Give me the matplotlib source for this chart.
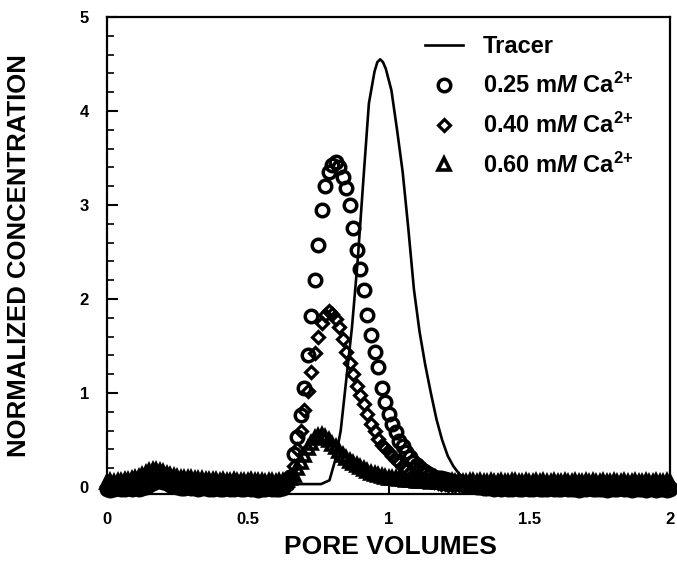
import numpy as np
import matplotlib
matplotlib.use('Agg')
import matplotlib.pyplot as plt
from matplotlib.lines import Line2D
from matplotlib.ticker import MultipleLocator, FormatStrFormatter

plt.rcParams['font.family'] = 'Liberation Sans'
plt.rcParams['font.weight'] = 'bold'
plt.rcParams['axes.labelweight'] = 'bold'
plt.rcParams['mathtext.fontset'] = 'custom'
plt.rcParams['mathtext.rm'] = 'Liberation Sans:bold'
plt.rcParams['mathtext.it'] = 'Liberation Sans:italic:bold'
plt.rcParams['mathtext.bf'] = 'Liberation Sans:bold'

# sampling grid of the effluent fractions (pore volumes)
pore_vol = np.linspace(0, 2, 161)

# 0.25 mM Ca2+ (circles)
c025 = [-0.02, -0.03, -0.02, -0.01, -0.02, -0.02, -0.01, -0.02, -0.01, -0.02,
        -0.01, 0.00, 0.02, 0.04, 0.06, 0.06, 0.05, 0.04, 0.02, 0.01,
        0.00, -0.01, -0.01, 0.00, -0.01, -0.01, -0.02, -0.01, -0.01, -0.02,
        -0.02, -0.01, -0.02, -0.02, -0.01, -0.02, -0.02, -0.01, -0.02, -0.02,
        -0.01, -0.02, -0.02, -0.03, -0.02, -0.02, -0.01, -0.02, -0.02, -0.02,
        -0.01, 0.03, 0.11, 0.35, 0.53, 0.77, 1.05, 1.40, 1.82, 2.20,
        2.57, 2.95, 3.20, 3.35, 3.43, 3.46, 3.40, 3.30, 3.18, 3.00,
        2.75, 2.52, 2.32, 2.10, 1.83, 1.62, 1.44, 1.28, 1.05, 0.90,
        0.78, 0.67, 0.58, 0.49, 0.43, 0.37, 0.32, 0.27, 0.23, 0.20,
        0.17, 0.15, 0.13, 0.11, 0.10, 0.09, 0.08, 0.07, 0.06, 0.05,
        0.04, 0.03, 0.02, 0.01, 0.01, 0.00, 0.00, -0.01, -0.01, -0.01,
        -0.02, -0.01, -0.02, -0.01, -0.02, -0.02, -0.01, -0.02, -0.02, -0.01,
        -0.02, -0.02, -0.01, -0.02, -0.02, -0.02, -0.01, -0.02, -0.02, -0.02,
        -0.01, -0.02, -0.02, -0.02, -0.03, -0.02, -0.02, -0.01, -0.02, -0.02,
        -0.02, -0.02, -0.03, -0.02, -0.02, -0.02, -0.01, -0.02, -0.02, -0.03,
        -0.02, -0.02, -0.02, -0.03, -0.02, -0.02, -0.03, -0.02, -0.02, -0.03, -0.02]

# 0.40 mM Ca2+ (diamonds)
c040 = [0.01, 0.01, 0.02, 0.01, 0.02, 0.01, 0.02, 0.02, 0.03, 0.03,
        0.04, 0.06, 0.08, 0.10, 0.11, 0.11, 0.10, 0.09, 0.07, 0.06,
        0.05, 0.04, 0.03, 0.03, 0.02, 0.03, 0.02, 0.01, 0.02, 0.02,
        0.01, 0.02, 0.01, 0.02, 0.02, 0.01, 0.02, 0.01, 0.02, 0.01,
        0.02, 0.01, 0.02, 0.02, 0.01, 0.02, 0.01, 0.02, 0.02, 0.02,
        0.03, 0.06, 0.12, 0.22, 0.40, 0.60, 0.82, 1.02, 1.22, 1.42,
        1.60, 1.74, 1.83, 1.87, 1.84, 1.79, 1.70, 1.57, 1.44, 1.32,
        1.20, 1.07, 0.98, 0.88, 0.78, 0.67, 0.59, 0.51, 0.45, 0.41,
        0.37, 0.33, 0.29, 0.25, 0.21, 0.18, 0.15, 0.13, 0.11, 0.09,
        0.08, 0.07, 0.06, 0.05, 0.04, 0.03, 0.03, 0.02, 0.02, 0.02,
        0.02, 0.01, 0.02, 0.01, 0.02, 0.01, 0.01, 0.02, 0.01, 0.02,
        0.01, 0.02, 0.01, 0.01, 0.02, 0.01, 0.02, 0.01, 0.01, 0.02,
        0.01, 0.01, 0.02, 0.01, 0.02, 0.01, 0.01, 0.02, 0.01, 0.02,
        0.01, 0.02, 0.01, 0.01, 0.02, 0.01, 0.02, 0.01, 0.01, 0.02,
        0.01, 0.02, 0.01, 0.01, 0.02, 0.01, 0.01, 0.02, 0.01, 0.01,
        0.02, 0.01, 0.01, 0.02, 0.01, 0.01, 0.02, 0.01, 0.02, 0.01, 0.02]

# 0.60 mM Ca2+ (triangles)
c060 = [0.05, 0.06, 0.05, 0.06, 0.06, 0.07, 0.07, 0.08, 0.09, 0.11,
        0.13, 0.15, 0.17, 0.18, 0.18, 0.17, 0.16, 0.14, 0.13, 0.12,
        0.11, 0.10, 0.10, 0.09, 0.09, 0.08, 0.08, 0.08, 0.07, 0.07,
        0.07, 0.07, 0.06, 0.07, 0.06, 0.06, 0.07, 0.06, 0.06, 0.06,
        0.06, 0.07, 0.06, 0.06, 0.06, 0.05, 0.06, 0.06, 0.05, 0.06,
        0.06, 0.07, 0.09, 0.13, 0.20, 0.27, 0.34, 0.41, 0.47, 0.52,
        0.54, 0.55, 0.53, 0.50, 0.46, 0.42, 0.38, 0.34, 0.31, 0.28,
        0.25, 0.23, 0.21, 0.19, 0.17, 0.15, 0.14, 0.13, 0.12, 0.11,
        0.10, 0.09, 0.09, 0.08, 0.08, 0.07, 0.07, 0.07, 0.06, 0.06,
        0.06, 0.06, 0.05, 0.06, 0.05, 0.06, 0.06, 0.05, 0.06, 0.05,
        0.06, 0.05, 0.05, 0.06, 0.06, 0.05, 0.06, 0.05, 0.05, 0.06,
        0.05, 0.05, 0.06, 0.05, 0.05, 0.06, 0.06, 0.05, 0.05, 0.06,
        0.05, 0.05, 0.06, 0.05, 0.06, 0.05, 0.05, 0.06, 0.05, 0.05,
        0.06, 0.05, 0.05, 0.06, 0.05, 0.05, 0.06, 0.05, 0.06, 0.05,
        0.05, 0.06, 0.05, 0.05, 0.06, 0.05, 0.05, 0.06, 0.05, 0.05,
        0.06, 0.05, 0.05, 0.06, 0.05, 0.05, 0.06, 0.05, 0.05, 0.06, 0.05]

# conservative tracer
tracer_x = [0.0, 0.30, 0.60, 0.76, 0.79, 0.81, 0.83, 0.85, 0.87, 0.89,
            0.91, 0.93, 0.95, 0.96, 0.97, 0.98, 0.99, 1.01, 1.03, 1.05,
            1.07, 1.09, 1.11, 1.13, 1.15, 1.17, 1.19, 1.21, 1.23, 1.25,
            1.28, 1.32, 1.50, 2.0]
tracer_y = [0.03, 0.03, 0.03, 0.03, 0.07, 0.28, 0.60, 1.15, 1.70, 2.40,
            3.25, 4.08, 4.42, 4.52, 4.55, 4.52, 4.45, 4.22, 3.80, 3.35,
            2.75, 2.10, 1.65, 1.30, 1.00, 0.72, 0.50, 0.33, 0.22, 0.14,
            0.07, 0.04, 0.03, 0.03]

labels = ['Tracer',
          r'0.25 m$\mathit{M}$ Ca$^{2{+}}$',
          r'0.40 m$\mathit{M}$ Ca$^{2{+}}$',
          r'0.60 m$\mathit{M}$ Ca$^{2{+}}$']

fig = plt.figure(figsize=(6.77, 5.67), dpi=100)
ax = fig.add_axes([0.158, 0.128, 0.832, 0.842])

circ = dict(marker='o', ms=9, mew=2.5, mfc='none', mec='black')
diam = dict(marker='D', ms=6.5, mew=2.3, mfc='none', mec='black')
tri = dict(marker='^', ms=8.5, mew=2.6, mfc='none', mec='black')

ax.plot(tracer_x, tracer_y, color='black', lw=1.9, zorder=2)
ax.plot(pore_vol, c025, ls='none', clip_on=False, zorder=3, **circ)
ax.plot(pore_vol, c040, ls='none', clip_on=False, zorder=3, **diam)
ax.plot(pore_vol, c060, ls='none', clip_on=False, zorder=3, **tri)

ax.set_xlim(0, 2)
ax.set_ylim(-0.08, 5)
ax.xaxis.set_major_locator(MultipleLocator(0.5))
ax.yaxis.set_major_locator(MultipleLocator(1))
ax.yaxis.set_minor_locator(MultipleLocator(0.2))
ax.xaxis.set_major_formatter(FormatStrFormatter('%g'))
ax.yaxis.set_major_formatter(FormatStrFormatter('%g'))
ax.tick_params(which='major', direction='in', length=8, width=1.5, labelsize=12, pad=13)
ax.tick_params(which='minor', direction='in', length=5, width=1.2)
for s in ax.spines.values():
    s.set_linewidth(1.6)

ax.set_xlabel('PORE VOLUMES', fontsize=19)
ax.set_ylabel('NORMALIZED CONCENTRATION', fontsize=18.5)
ax.xaxis.set_label_coords(0.503, -0.085)
ax.yaxis.set_label_coords(-0.135, 0.5)

handles = [Line2D([], [], color='black', lw=1.9),
           Line2D([], [], ls='none', **circ),
           Line2D([], [], ls='none', **diam),
           Line2D([], [], ls='none', **tri)]
ax.legend(handles, labels, loc='upper left', bbox_to_anchor=(0.565, 0.962),
          frameon=False, fontsize=17, handlelength=1.6, handletextpad=0.85,
          labelspacing=0.62, borderpad=0, borderaxespad=0)

fig.savefig('out.png', dpi=100)
